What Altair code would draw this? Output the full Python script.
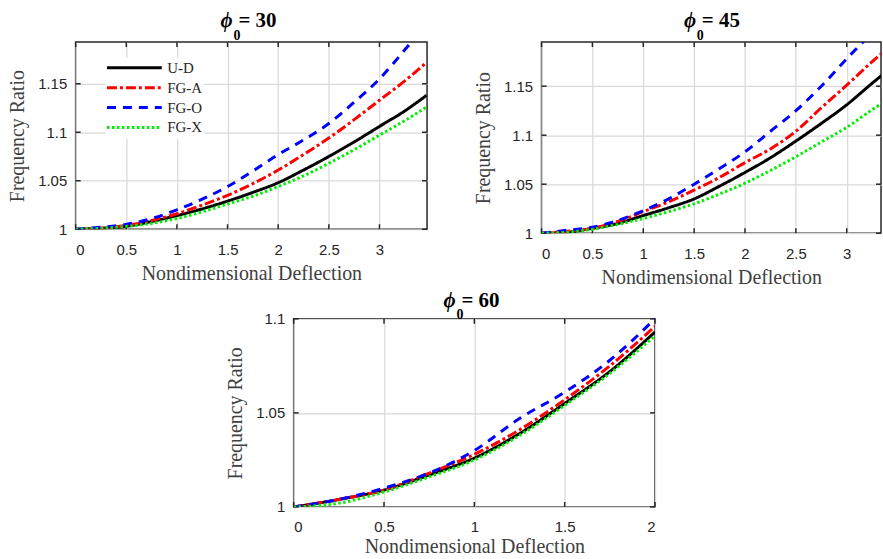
import altair as alt
import pandas as pd

SERIF = "Liberation Serif"
SANS = "Liberation Sans"
FRAME = "#262626"

SERIES = ["U-D", "FG-A", "FG-O", "FG-X"]
COLORS = ["#000000", "#ff0000", "#0000ff", "#00ee00"]
DASHES = [[1, 0], [10, 3, 3, 3], [9, 7], [2.5, 2.5]]

# ---- phi0 = 30 ----
x30 = [0, 0.25, 0.5, 0.75, 1, 1.25, 1.5, 1.75, 2, 2.25, 2.5, 2.75, 3, 3.25, 3.464]
ud30 = [1, 1.001, 1.003, 1.008, 1.014, 1.021, 1.029, 1.038, 1.048, 1.061, 1.075, 1.090, 1.106, 1.122, 1.138]
fga30 = [1, 1.001, 1.004, 1.009, 1.016, 1.025, 1.035, 1.047, 1.061, 1.077, 1.094, 1.113, 1.133, 1.153, 1.172]
fgo30 = [1, 1.002, 1.005, 1.011, 1.020, 1.031, 1.044, 1.060, 1.077, 1.092, 1.109, 1.131, 1.155, 1.185, 1.212]
fgx30 = [1, 1.001, 1.003, 1.006, 1.011, 1.018, 1.026, 1.034, 1.044, 1.055, 1.068, 1.082, 1.097, 1.112, 1.126]

# ---- phi0 = 45 ----
x45 = [0, 0.25, 0.5, 0.75, 1, 1.25, 1.5, 1.75, 2, 2.25, 2.5, 2.75, 3, 3.25, 3.464]
ud45 = [1, 1.001, 1.005, 1.010, 1.018, 1.026, 1.035, 1.048, 1.062, 1.077, 1.094, 1.112, 1.131, 1.153, 1.171]
fga45 = [1, 1.002, 1.005, 1.012, 1.022, 1.032, 1.044, 1.057, 1.072, 1.086, 1.104, 1.128, 1.151, 1.175, 1.194]
fgo45 = [1, 1.003, 1.006, 1.013, 1.023, 1.035, 1.050, 1.066, 1.083, 1.104, 1.125, 1.150, 1.178, 1.205, 1.230]
fgx45 = [1, 1.001, 1.004, 1.009, 1.015, 1.022, 1.030, 1.040, 1.051, 1.064, 1.078, 1.093, 1.108, 1.126, 1.140]

# ---- phi0 = 60 ----
x60 = [0, 0.25, 0.5, 0.75, 1, 1.25, 1.5, 1.75, 2]
ud60 = [1, 1.004, 1.009, 1.017, 1.026, 1.039, 1.055, 1.072, 1.093]
fga60 = [1, 1.004, 1.009, 1.018, 1.028, 1.041, 1.057, 1.075, 1.096]
fgo60 = [1, 1.004, 1.010, 1.018, 1.030, 1.047, 1.061, 1.078, 1.100]
fgx60 = [1, 1.002, 1.008, 1.016, 1.025, 1.038, 1.054, 1.071, 1.091]

XT30 = [0, 0.5, 1, 1.5, 2, 2.5, 3]
YT30 = [1, 1.05, 1.1, 1.15]
XT60 = [0, 0.5, 1, 1.5, 2]
YT60 = [1, 1.05, 1.1]


def make_df(x, ys):
    rows = []
    for s, y in zip(SERIES, ys):
        for xi, yi in zip(x, y):
            rows.append({"x": xi, "y": yi, "series": s})
    return pd.DataFrame(rows)


def panel(df, xdom, ydom, xticks, yticks, W, H, label, center, legend=False,
          t_dy=-15, s_dy=-2, xtp=7):
    xs = alt.Scale(domain=xdom, nice=False, zero=False)
    ys = alt.Scale(domain=ydom, nice=False, zero=False)
    xaxis = alt.Axis(values=xticks, format="~g", title="Nondimensional Deflection",
                     titlePadding=xtp)
    yaxis = alt.Axis(values=yticks, format="~g", title="Frequency Ratio")
    X = alt.X("x:Q", scale=xs, axis=xaxis)
    Y = alt.Y("y:Q", scale=ys, axis=yaxis)

    if legend:
        leg = alt.Legend(title=None, orient="none", legendX=30, legendY=16,
                         symbolType="stroke", symbolSize=3025, symbolStrokeWidth=3,
                         labelFont=SERIF, labelFontSize=15, labelColor=FRAME,
                         labelOffset=4, padding=0, fillColor="white",
                         strokeColor="white", rowPadding=0, clipHeight=19.6)
        col = alt.Color("series:N", scale=alt.Scale(domain=SERIES, range=COLORS), legend=leg)
        dash = alt.StrokeDash("series:N", scale=alt.Scale(domain=SERIES, range=DASHES), legend=leg)
    else:
        col = alt.Color("series:N", scale=alt.Scale(domain=SERIES, range=COLORS), legend=None)
        dash = alt.StrokeDash("series:N", scale=alt.Scale(domain=SERIES, range=DASHES), legend=None)

    lines = alt.Chart(df).mark_line(strokeWidth=3, clip=True, interpolate="monotone",
                                    strokeCap="butt").encode(
        x=X, y=Y, color=col, strokeDash=dash,
        order=alt.Order("x:Q"))

    xt = pd.DataFrame({"x": xticks})
    yt = pd.DataFrame({"y": yticks})
    L = 5
    rule = dict(color=FRAME, strokeWidth=1.5)
    tk1 = alt.Chart(xt).mark_rule(**rule).encode(x=X, y=alt.value(0), y2=alt.value(L))
    tk2 = alt.Chart(xt).mark_rule(**rule).encode(x=X, y=alt.value(H - L), y2=alt.value(H))
    tk3 = alt.Chart(yt).mark_rule(**rule).encode(y=Y, x=alt.value(0), x2=alt.value(L))
    tk4 = alt.Chart(yt).mark_rule(**rule).encode(y=Y, x=alt.value(W - L), x2=alt.value(W))

    one = pd.DataFrame({"a": [0]})
    phi = alt.Chart(one).mark_text(text="ϕ", font=SERIF, fontSize=21, fontWeight="bold",
                                   fontStyle="italic", align="left", baseline="alphabetic",
                                   color="black").encode(x=alt.value(center - 31), y=alt.value(t_dy))
    sub = alt.Chart(one).mark_text(text="0", font=SERIF, fontSize=14, fontWeight="bold",
                                   align="left", baseline="alphabetic",
                                   color="black").encode(x=alt.value(center - 18), y=alt.value(s_dy))
    eq = alt.Chart(one).mark_text(text="= " + label, font=SERIF, fontSize=21, fontWeight="bold",
                                  align="left", baseline="alphabetic",
                                  color="black").encode(x=alt.value(center - 13), y=alt.value(t_dy))

    return alt.layer(tk1, tk2, tk3, tk4, lines, phi, sub, eq).properties(width=W, height=H)


p1 = panel(make_df(x30, [ud30, fga30, fgo30, fgx30]), [0, 3.47], [1, 1.193],
           XT30, YT30, 353, 188, "30", 176.5, legend=True)
p2 = panel(make_df(x45, [ud45, fga45, fgo45, fgx45]), [0, 3.337], [1, 1.195],
           XT30, YT30, 341, 192, "45", 174)
p3 = panel(make_df(x60, [ud60, fga60, fgo60, fgx60]), [0, 2], [1, 1.1],
           XT60, YT60, 363, 189, "60", 181.5, t_dy=-12, s_dy=0, xtp=2)

spacer = alt.Chart(pd.DataFrame({"a": [0]})).mark_point(opacity=0, size=1).encode(
    x=alt.value(0), y=alt.value(0)
).properties(width=219, height=10, view=alt.ViewBackground(stroke="transparent", strokeWidth=0))

top = alt.hconcat(p1, p2, spacing=115, bounds="flush").resolve_scale(color="independent", strokeDash="independent")
bottom = alt.hconcat(spacer, p3, spacing=0, bounds="flush").resolve_scale(color="independent", strokeDash="independent")

chart = alt.vconcat(top, bottom, spacing=0).resolve_scale(
    color="independent", strokeDash="independent"
).properties(
    padding={"left": 7, "top": 8, "right": 0, "bottom": 0}
).configure_view(
    stroke=FRAME, strokeWidth=1.5
).configure_axis(
    labelFont=SANS, labelFontSize=15, labelColor=FRAME,
    titleFont=SERIF, titleFontSize=20, titleFontWeight="normal", titleColor="#404040",
    grid=True, gridColor="#d9d9d9", gridWidth=1.2,
    domain=False, ticks=False, tickSize=0
).configure_axisX(
    labelPadding=13
).configure_axisY(
    labelPadding=9, titlePadding=10
)

chart.save("out.html", embed_options={"renderer": "svg", "actions": False})
